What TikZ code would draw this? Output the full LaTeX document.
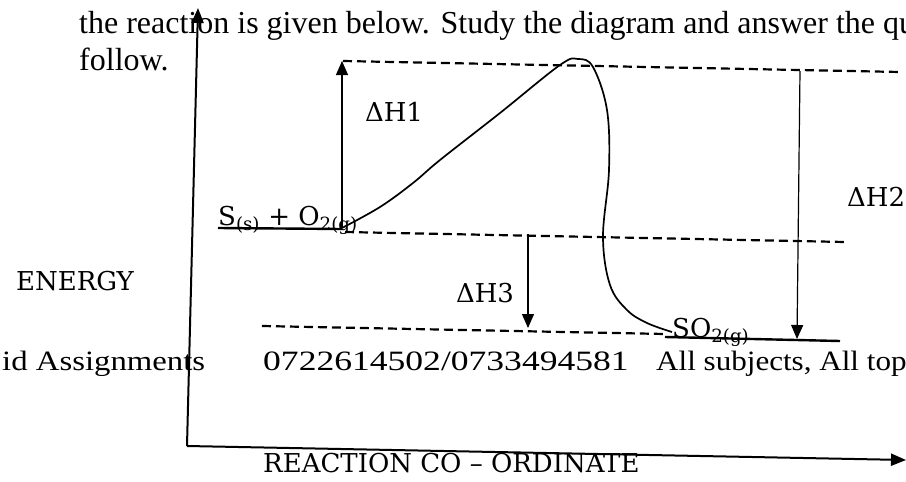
\documentclass[tikz,border=0pt]{standalone}
\usepackage{fontspec}
\setmainfont{Liberation Serif}
\newfontfamily\diagfont{DejaVu Serif}
\newfontfamily\footfont[FakeStretch=1.17]{Liberation Serif}
\newfontfamily\tailfont[FakeStretch=1.11]{Liberation Serif}
\newfontfamily\digitfont[FakeStretch=1.27]{Liberation Serif}
\usetikzlibrary{arrows.meta}

\begin{document}
\begin{tikzpicture}[x=1pt, y=-1pt,
  every node/.style={inner sep=0pt},
  lbl/.style={font=\diagfont\fontsize{26}{30}\selectfont},
  doc/.style={font=\fontsize{32}{37}\selectfont, anchor=base west},
  foot/.style={font=\footfont\fontsize{28}{32}\selectfont, anchor=base west},
  dline/.style={line width=2.2pt, dash pattern=on 9pt off 5pt},
  level/.style={line width=2.4pt},
  harrow/.style={line width=1.2pt, -{Triangle[length=14pt,width=12pt]}},
  axis/.style={line width=2pt, -{Triangle[length=15pt,width=12pt]}}]
  \useasboundingbox (0,0) rectangle (906,482);
  \clip (0,0) rectangle (906,482);

  % page text round the diagram
  \node[doc] (txtA) at (79,33) {the reaction is given below. Study the diagram and answer the qu};
  \node[doc] (txtB) at (79,70) {follow.};
  \node[foot] (footA) at (2,370) {id Assignments};
  \node[foot, font=\digitfont\fontsize{28}{32}\selectfont] (footB) at (263,370) {0722614502/0733494581};
  \node[foot, font=\tailfont\fontsize{28}{32}\selectfont] (footC) at (656,370) {All subjects, All top};

  % axes
  \coordinate (orig) at (187,446);
  \coordinate (ytop) at (198,8);
  \coordinate (xend) at (906,460);
  \draw[axis] (orig) -- (ytop);
  \draw[axis] (orig) -- (xend);
  \node[lbl] (energy) at (75,281) {ENERGY};
  \node[lbl, anchor=west] (xlab) at (263,463) {REACTION CO – ORDINATE};

  % energy levels
  \coordinate (r0) at (218,228);
  \coordinate (r1) at (342,229);
  \coordinate (p0) at (665,337);
  \coordinate (p1) at (840,341);
  \draw[level] (r0) -- (r1);
  \draw[level] (p0) -- (p1);
  \node[lbl, anchor=base west] (react) at (218,225) {S\textsubscript{(s)} + O\textsubscript{2(g)}};
  \node[lbl, anchor=base west] (prod) at (672,337) {SO\textsubscript{2(g)}};

  % dashed guide lines
  \coordinate (t0) at (343,61);
  \coordinate (t1) at (900,72);
  \coordinate (m0) at (345,232);
  \coordinate (m1) at (845,242);
  \coordinate (l0) at (262,326);
  \coordinate (l1) at (665,334);
  \draw[dline] (t0) -- (t1);
  \draw[dline] (m0) -- (m1);
  \draw[dline] (l0) -- (l1);

  % reaction path
  \draw[line width=1.7pt] plot[smooth, tension=0.6] coordinates {(342,228) (380,207) (413,183) (440,160)
    (500,113) (560,65) (578,59) (593,67) (607,110) (609,170) (603,237) (610,285) (627,310) (647,323) (672,332)};

  % enthalpy changes
  \coordinate (a1) at (342,228);
  \coordinate (b1) at (342,61);
  \draw[harrow] (a1) -- (b1);
  \node[lbl] (dh1) at (394,112) {ΔH1};
  \coordinate (a2) at (800,71);
  \coordinate (b2) at (797,339);
  \draw[harrow] (a2) -- (b2);
  \node[lbl, anchor=west] (dh2) at (847,197) {ΔH2};
  \coordinate (a3) at (528,234);
  \coordinate (b3) at (528,328);
  \draw[harrow] (a3) -- (b3);
  \node[lbl] (dh3) at (485,293) {ΔH3};
\end{tikzpicture}
\end{document}
